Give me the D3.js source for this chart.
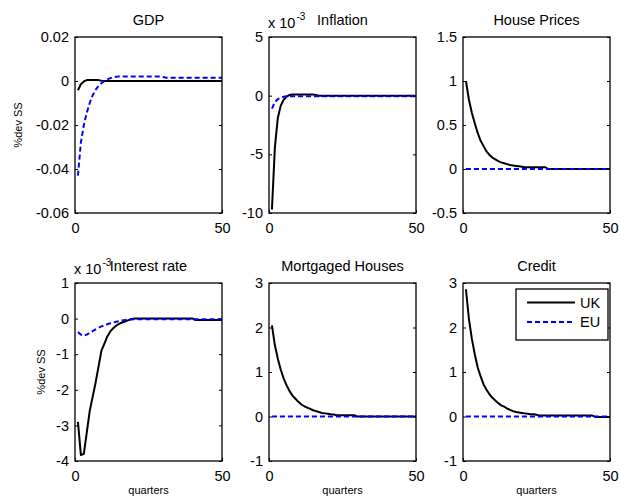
<!DOCTYPE html>
<html><head><meta charset="utf-8">
<script src="https://cdn.jsdelivr.net/npm/d3@7"></script>
<style>
body{margin:0;background:#fff}
svg{display:block}
text{font-family:"Liberation Sans",Arial,Helvetica,sans-serif;fill:#000}
</style>
</head><body><svg id="c" width="620" height="499"></svg>
<script>
// ---------- data ----------
const quarters = d3.range(1, 51);
const xTicks = [0, 50];
const xTickLabels = ["0", "50"];

const gdpUK = [-0.0042,-0.0015,-0.0002,0.0004,0.0005,0.0005,0.0005,0.0004,0.0001,0,
  0,0,0,0,0,0,0,0,0,0, 0,0,0,0,0,0,0,0,0,0, 0,0,0,0,0,0,0,0,0,0, 0,0,0,0,0,0,0,0,0,0];
const gdpEU = [-0.043,-0.028,-0.020,-0.0145,-0.010,-0.0065,-0.004,-0.0022,-0.001,-0.0001,
  0.0007,0.0013,0.0017,0.0019,0.0021,0.0021,0.0021,0.0021,0.0021,0.0021,
  0.0021,0.0021,0.0021,0.0021,0.0021,0.0021,0.0021,0.0021,0.0021,0.0018,
  0.0015,0.0015,0.0015,0.0015,0.0015,0.0015,0.0015,0.0015,0.0015,0.0015,
  0.0015,0.0015,0.0015,0.0015,0.0015,0.0015,0.0015,0.0015,0.0015,0.0015];
const gdpTicks = [-0.06,-0.04,-0.02,0,0.02];
const gdpTickLabels = ["-0.06","-0.04","-0.02","0","0.02"];

const inflUK = [-9.7,-4.4,-1.9,-0.85,-0.35,-0.08,0.06,0.1,0.1,0.1,
  0.1,0.1,0.1,0.1,0.1,0.05,0,0,0,0, 0,0,0,0,0,0,0,0,0,0, 0,0,0,0,0,0,0,0,0,0, 0,0,0,0,0,0,0,0,0,0];
const inflEU = [-1.1,-0.55,-0.3,-0.17,-0.1,-0.05,-0.05,-0.05,-0.05,-0.05,
  -0.05,-0.05,-0.05,-0.05,-0.05,-0.05,-0.05,-0.05,-0.05,-0.05,
  -0.05,-0.05,-0.05,-0.05,-0.05,-0.05,-0.05,-0.05,-0.05,-0.05,
  -0.05,-0.05,-0.05,-0.05,-0.05,-0.05,-0.05,-0.05,-0.05,-0.05,
  -0.05,-0.05,-0.05,-0.05,-0.05,-0.05,-0.05,-0.05,-0.05,-0.05];
const inflTicks = [-10,-5,0,5];
const inflTickLabels = ["-10","-5","0","5"];

const houseUK = [1.0,0.79,0.64,0.52,0.41,0.32,0.26,0.2,0.16,0.13,
  0.11,0.09,0.075,0.065,0.055,0.045,0.04,0.035,0.03,0.025,
  0.02,0.02,0.02,0.02,0.02,0.02,0.02,0.02,0,0, 0,0,0,0,0,0,0,0,0,0, 0,0,0,0,0,0,0,0,0,0];
const houseEU = [0,0,0,0,0,0,0,0,0,0, 0,0,0,0,0,0,0,0,0,0, 0,0,0,0,0,0,0,0,0,0, 0,0,0,0,0,0,0,0,0,0, 0,0,0,0,0,0,0,0,0,0];
const houseTicks = [-0.5,0,0.5,1,1.5];
const houseTickLabels = ["-0.5","0","0.5","1","1.5"];

const rateUK = [-2.9,-3.83,-3.8,-3.2,-2.6,-2.2,-1.8,-1.35,-0.9,-0.7,
  -0.5,-0.36,-0.27,-0.2,-0.15,-0.11,-0.08,-0.05,-0.02,0,
  0,0,0,0,0,0,0,0,0,0, 0,0,0,0,0,0,0,0,0,0,
  -0.04,-0.04,-0.04,-0.04,-0.04,-0.04,-0.04,-0.04,-0.04,-0.04];
const rateEU = [-0.38,-0.45,-0.48,-0.45,-0.4,-0.35,-0.3,-0.26,-0.22,-0.19,
  -0.16,-0.13,-0.11,-0.09,-0.07,-0.05,-0.04,-0.03,-0.025,-0.02,
  -0.02,-0.02,-0.02,-0.02,-0.02,-0.02,-0.02,-0.02,-0.02,-0.02,
  -0.02,-0.02,-0.02,-0.02,-0.02,-0.02,-0.02,-0.02,-0.02,-0.02,
  -0.02,-0.02,-0.02,-0.02,-0.02,-0.02,-0.02,-0.02,-0.02,-0.02];
const rateTicks = [-4,-3,-2,-1,0,1];
const rateTickLabels = ["-4","-3","-2","-1","0","1"];

const mortUK = [2.05,1.6,1.3,1.05,0.85,0.7,0.57,0.47,0.4,0.33,
  0.27,0.23,0.2,0.17,0.14,0.12,0.1,0.08,0.07,0.06,
  0.05,0.045,0.03,0.03,0.03,0.03,0.03,0.03,0.03,0,
  0,0,0,0,0,0,0,0,0,0, 0,0,0,0,0,0,0,0,0,0];
const mortEU = [0,0,0,0,0,0,0,0,0,0, 0,0,0,0,0,0,0,0,0,0, 0,0,0,0,0,0,0,0,0,0, 0,0,0,0,0,0,0,0,0,0, 0,0,0,0,0,0,0,0,0,0];
const mortTicks = [-1,0,1,2,3];
const mortTickLabels = ["-1","0","1","2","3"];

const creditUK = [2.86,2.2,1.75,1.4,1.1,0.9,0.72,0.6,0.5,0.42,
  0.36,0.3,0.25,0.22,0.18,0.15,0.12,0.1,0.09,0.08,
  0.07,0.06,0.05,0.05,0.04,0.02,0.02,0.02,0.02,0.02,
  0.02,0.02,0.02,0.02,0.02,0.02,0.02,0.02,0.02,0.02,
  0.02,0.02,0.02,0.02,-0.01,-0.01,-0.01,-0.01,-0.01,-0.01];
const creditEU = [0,0,0,0,0,0,0,0,0,0, 0,0,0,0,0,0,0,0,0,0, 0,0,0,0,0,0,0,0,0,0, 0,0,0,0,0,0,0,0,0,0, 0,0,0,0,0,0,0,0,0,0];
const creditTicks = [-1,0,1,2,3];
const creditTickLabels = ["-1","0","1","2","3"];

const titles = ["GDP","Inflation","House Prices","Interest rate","Mortgaged Houses","Credit"];
const seriesNames = ["UK","EU"];
const yLabel = "%dev SS";
const xLabel = "quarters";

// ---------- layout ----------
const svg = d3.select("#c");
const colLeft = [75, 269, 463], colW = 147;
const rowTop = [37, 283], rowH = [176, 178];
const FS = 14.5;

const panels = [
  {uk:gdpUK, eu:gdpEU, dom:[-0.06,0.02], ticks:gdpTicks, labels:gdpTickLabels, exp:false},
  {uk:inflUK, eu:inflEU, dom:[-10,5], ticks:inflTicks, labels:inflTickLabels, exp:true},
  {uk:houseUK, eu:houseEU, dom:[-0.5,1.5], ticks:houseTicks, labels:houseTickLabels, exp:false},
  {uk:rateUK, eu:rateEU, dom:[-4,1], ticks:rateTicks, labels:rateTickLabels, exp:true},
  {uk:mortUK, eu:mortEU, dom:[-1,3], ticks:mortTicks, labels:mortTickLabels, exp:false},
  {uk:creditUK, eu:creditEU, dom:[-1,3], ticks:creditTicks, labels:creditTickLabels, exp:false}
];

panels.forEach((p, i) => {
  const r = Math.floor(i / 3), c = i % 3;
  const L = colLeft[c], T = rowTop[r], W = colW, H = rowH[r];
  const x = d3.scaleLinear().domain([0, 50]).range([L, L + W]);
  const y = d3.scaleLinear().domain(p.dom).range([T + H, T]);
  const g = svg.append("g");

  // lines
  const line = arr => d3.line().x((d, k) => x(quarters[k])).y(d => y(d))(arr);
  g.append("path").attr("d", line(p.uk)).attr("fill", "none")
    .attr("stroke", "#000").attr("stroke-width", 2).attr("stroke-linejoin", "round");
  g.append("path").attr("d", line(p.eu)).attr("fill", "none")
    .attr("stroke", "#0000ff").attr("stroke-width", 2).attr("stroke-dasharray", "5,3");

  // axes
  const fmt = v => p.labels[p.ticks.indexOf(v)];
  const ax = g.append("g").attr("transform", `translate(${L},0)`)
    .call(d3.axisLeft(y).tickValues(p.ticks).tickFormat(fmt).tickSize(-3).tickPadding(6));
  const axR = g.append("g").attr("transform", `translate(${L + W},0)`)
    .call(d3.axisRight(y).tickValues(p.ticks).tickFormat("").tickSize(-3));
  const axB = g.append("g").attr("transform", `translate(0,${T + H})`)
    .call(d3.axisBottom(x).tickValues(xTicks).tickFormat(v => xTickLabels[xTicks.indexOf(v)]).tickSize(-3).tickPadding(10));
  [ax, axR, axB].forEach(a => {
    a.select(".domain").remove();
    a.selectAll("line").attr("stroke", "#000");
    a.selectAll("text").attr("font-size", FS).attr("font-family", null);
  });
  g.append("rect").attr("x", L).attr("y", T).attr("width", W).attr("height", H)
    .attr("fill", "none").attr("stroke", "#000").attr("stroke-width", 1.3);

  // title
  g.append("text").attr("x", L + W / 2).attr("y", T - 12).attr("text-anchor", "middle")
    .attr("font-size", FS).text(titles[i]);

  // exponent
  if (p.exp) {
    const t = g.append("text").attr("x", L - 1).attr("y", T - 9).attr("font-size", FS);
    t.append("tspan").text("x 10");
    t.append("tspan").attr("font-size", 10).attr("dy", -8).attr("dx", 1).text("-3");
  }

  if (c === 0) {
    const lx = r === 0 ? 22 : 45;
    g.append("text").attr("transform", `translate(${lx},${T + H / 2}) rotate(-90)`)
      .attr("text-anchor", "middle").attr("font-size", 11).text(yLabel);
  }
  if (r === 1) {
    g.append("text").attr("x", L + W / 2).attr("y", 494).attr("text-anchor", "middle")
      .attr("font-size", 11).text(xLabel);
  }

  // legend
  if (i === 5) {
    const lg = svg.append("g");
    lg.append("rect").attr("x", 516).attr("y", 289).attr("width", 92).attr("height", 51)
      .attr("fill", "#fff").attr("stroke", "#000").attr("stroke-width", 1.3);
    const styles = [{stroke:"#000", dash:null}, {stroke:"#0000ff", dash:"5,3"}];
    seriesNames.forEach((n, k) => {
      const yy = 302.5 + k * 19.5;
      lg.append("line").attr("x1", 527).attr("x2", 575).attr("y1", yy).attr("y2", yy)
        .attr("stroke", styles[k].stroke).attr("stroke-width", 2)
        .attr("stroke-dasharray", styles[k].dash);
      lg.append("text").attr("x", 580).attr("y", yy).attr("dy", "0.36em")
        .attr("font-size", FS).text(n);
    });
  }
});
</script></body></html>
